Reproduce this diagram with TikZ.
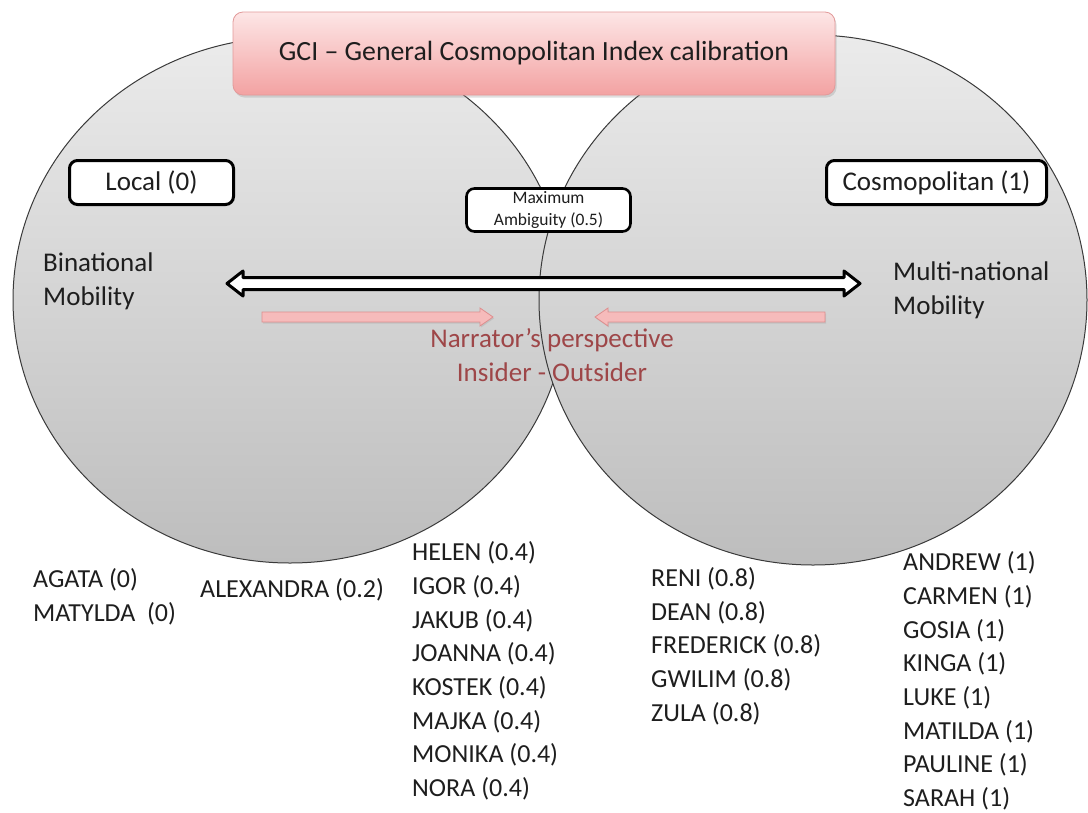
\documentclass[tikz,border=0pt]{standalone}
\usepackage{fontspec}
\setmainfont{Carlito}
\usetikzlibrary{shapes.geometric,shadows}

\definecolor{zonetop}{HTML}{EBEBEB}
\definecolor{zonebot}{HTML}{BDBDBD}
\definecolor{ringline}{HTML}{3A3A3A}
\definecolor{titletop}{HTML}{FDE6E6}
\definecolor{titlebot}{HTML}{F3A2A2}
\definecolor{titleedge}{HTML}{E29A9A}
\definecolor{pinkfill}{HTML}{F6BBBB}
\definecolor{pinkedge}{HTML}{DE8E8E}
\definecolor{narrator}{HTML}{9E4648}
\definecolor{ink}{HTML}{1E1E1E}

\begin{document}
\begin{tikzpicture}[x=1pt,y=-1pt,
  zone/.style={ellipse, draw=ringline, line width=1pt,
    top color=zonetop, bottom color=zonebot, inner sep=0pt},
  titlebox/.style={rectangle, rounded corners=10pt, draw=titleedge, line width=0.8pt,
    top color=titletop, bottom color=titlebot, inner sep=0pt,
    drop shadow={opacity=0.25, shadow xshift=1.5pt, shadow yshift=-2.5pt},
    font=\fontsize{27.8}{32}\selectfont, text=ink},
  labelbox/.style={rectangle, rounded corners=8pt, draw=black, line width=3pt,
    fill=white, inner sep=0pt, font=\fontsize{27}{32}\selectfont, text=ink},
  smallbox/.style={labelbox, line width=2.6pt, align=center,
    font=\fontsize{17.5}{22}\selectfont},
  sidetext/.style={anchor=west, align=left, inner sep=0pt, text=ink,
    font=\fontsize{27}{34}\selectfont},
  namelist/.style={anchor=west, align=left, inner sep=0pt, text=ink,
    font=\fontsize{26}{33.7}\selectfont},
  scalearrow/.style={draw=black, line width=3pt, fill=white, line join=round},
  pinkarrow/.style={fill=pinkfill, draw=pinkedge, line width=0.8pt,
    drop shadow={opacity=0.2, shadow xshift=1pt, shadow yshift=-1.5pt}},
  ]
\useasboundingbox (0,0) rectangle (1088,812);

% the two overlapping zones; the right one lies over the left one
\node[zone, minimum width=554pt, minimum height=526pt] (localzone) at (290,300) {};
\node[zone, minimum width=548pt, minimum height=530pt] (cosmozone) at (813,300) {};

% title banner
\node[titlebox, minimum width=602pt, minimum height=83pt] (gci) at (534,53.5)
  {GCI – General Cosmopolitan Index calibration};

% pole labels
\node[labelbox, minimum width=164pt, minimum height=44pt] (local) at (151.5,182.5) {Local (0)};
\node[labelbox, minimum width=220pt, minimum height=44pt] (cosmo) at (936.5,182.5) {Cosmopolitan (1)};
\node[smallbox, minimum width=164pt, minimum height=43pt] (ambig) at (548.5,210)
  {Maximum\\Ambiguity (0.5)};

% mobility scale: white double block arrow
\node[sidetext] (binat) at (43,281) {Binational\\Mobility};
\node[sidetext] (multi) at (893,290) {Multi-national\\Mobility};
\path[scalearrow] (227,283.5) -- (243,271) -- (243,277.5) -- (844,277.5) -- (844,271)
  -- (860,283.5) -- (844,296) -- (844,289.5) -- (243,289.5) -- (243,296) -- cycle;

% narrator's perspective: two pink block arrows pointing inwards
\path[pinkarrow] (262,312) -- (480,312) -- (480,308) -- (493,317) -- (480,326)
  -- (480,322) -- (262,322) -- cycle;
\path[pinkarrow] (825,312) -- (608,312) -- (608,308) -- (595,317) -- (608,326)
  -- (608,322) -- (825,322) -- cycle;
\node[align=center, inner sep=0pt, text=narrator, font=\fontsize{27}{34}\selectfont]
  (narr) at (552,355) {Narrator’s perspective\\Insider - Outsider};

% interviewees by index value
\node[namelist] (g0) at (33,597) {AGATA (0)\\MATYLDA~ (0)};
\node[namelist] (g02) at (200,590) {ALEXANDRA (0.2)};
\node[namelist] (g04) at (412,671) {HELEN (0.4)\\IGOR (0.4)\\JAKUB (0.4)\\JOANNA (0.4)\\KOSTEK (0.4)\\MAJKA (0.4)\\MONIKA (0.4)\\NORA (0.4)};
\node[namelist] (g08) at (651,646) {RENI (0.8)\\DEAN (0.8)\\FREDERICK (0.8)\\GWILIM (0.8)\\ZULA (0.8)};
\node[namelist] (g1) at (903,681) {ANDREW (1)\\CARMEN (1)\\GOSIA (1)\\KINGA (1)\\LUKE (1)\\MATILDA (1)\\PAULINE (1)\\SARAH (1)};
\end{tikzpicture}
\end{document}
